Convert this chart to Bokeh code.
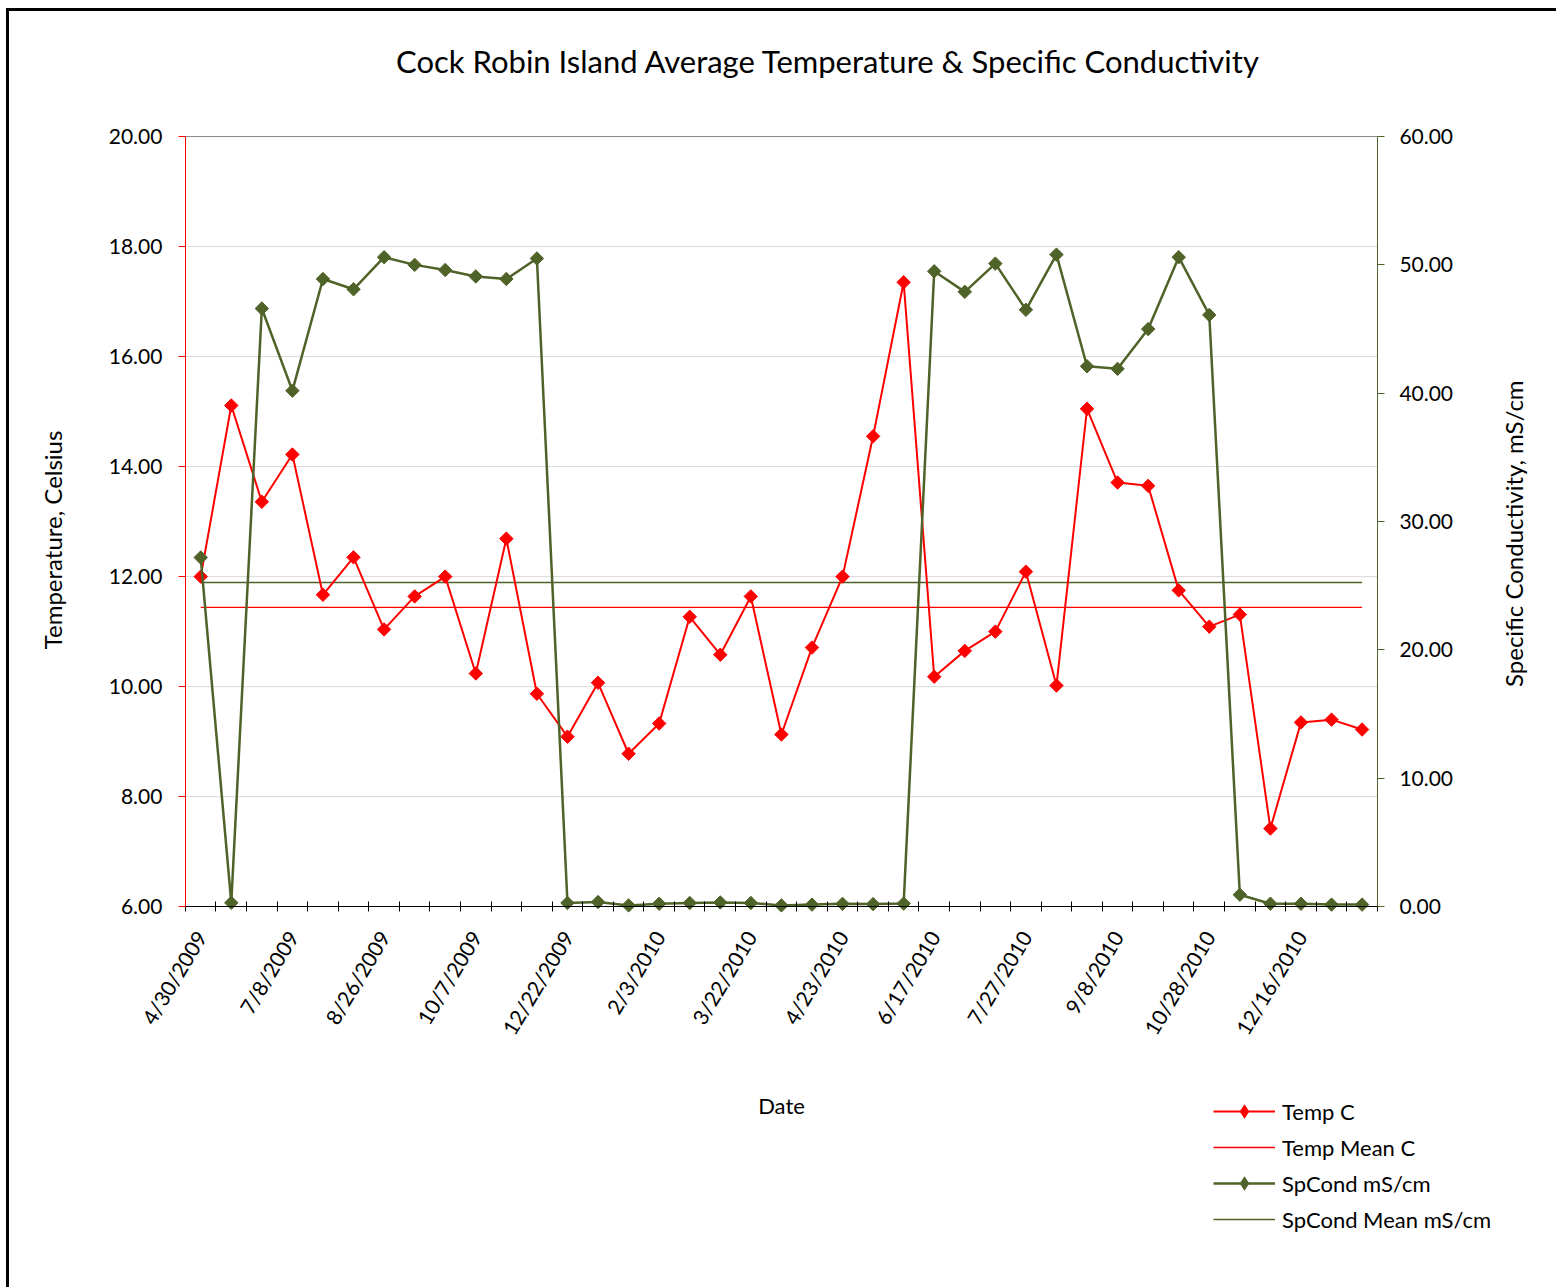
import math
from bokeh.plotting import figure
from bokeh.models import (Range1d, LinearAxis, FixedTicker, NumeralTickFormatter,
                          Legend, LegendItem, Label)
from bokeh.embed import file_html
from bokeh.resources import INLINE

# ---------------- data ----------------
tick_labels = ["4/30/2009", "7/8/2009", "8/26/2009", "10/7/2009", "12/22/2009",
               "2/3/2010", "3/22/2010", "4/23/2010", "6/17/2010", "7/27/2010",
               "9/8/2010", "10/28/2010", "12/16/2010"]
tick_index = [0, 3, 6, 9, 12, 15, 18, 21, 24, 27, 30, 33, 36]

temp_c = [12.00, 15.11, 13.36, 14.22, 11.67, 12.35, 11.04, 11.64, 12.00, 10.24,
          12.69, 9.87, 9.09, 10.07, 8.78, 9.33, 11.27, 10.58, 11.64, 9.13,
          10.71, 12.00, 14.55, 17.35, 10.18, 10.65, 11.00, 12.09, 10.02, 15.05,
          13.71, 13.65, 11.75, 11.09, 11.31, 7.42, 9.35, 9.40, 9.22]
spcond = [27.2, 0.3, 46.6, 40.2, 48.9, 48.1, 50.6, 50.0, 49.6, 49.1,
          48.9, 50.5, 0.29, 0.36, 0.10, 0.23, 0.29, 0.33, 0.29, 0.10,
          0.16, 0.22, 0.20, 0.24, 49.5, 47.9, 50.1, 46.5, 50.8, 42.1,
          41.9, 45.0, 50.6, 46.1, 0.93, 0.23, 0.23, 0.16, 0.16]
temp_mean_c = 11.44
spcond_mean = 25.25

temp_ticks = [6, 8, 10, 12, 14, 16, 18, 20]
temp_grid = [8, 10, 12, 14, 16, 18]
spcond_ticks = [0, 10, 20, 30, 40, 50, 60]

# ---------------- layout / styling ----------------
FONT = "Lato"
RED = "#FF0000"
OLIVE = "#4F6228"
NB = "\u00a0"
n = len(temp_c)
x = list(range(n))
X_LO, X_HI = -0.5, n - 0.5          # category extent
T_MIN, T_MAX = 6, 20                # left axis extent
S_MIN, S_MAX = 0, 60                # right axis extent
# the frame covers the whole page so that title, axes and legend are not clipped
VIEW_X = (-6.42, 44.23)
VIEW_Y = (-0.85, 22.4)
k = (S_MAX - S_MIN) / (T_MAX - T_MIN)

p = figure(width=1556, height=1287, output_backend="svg", toolbar_location=None,
           x_range=Range1d(*VIEW_X), y_range=Range1d(*VIEW_Y),
           min_border_left=4, min_border_right=4, min_border_top=4,
           min_border_bottom=4, border_fill_color=None,
           background_fill_color=None, outline_line_color=None)
p.styles = {
    "background-image": "linear-gradient(#000,#000), linear-gradient(#000,#000)",
    "background-size": "3px 100%, 100% 3px",
    "background-position": "6px 8px, 6px 8px",
    "background-repeat": "no-repeat",
}
p.extra_y_ranges = {"sp": Range1d(S_MIN + (VIEW_Y[0] - T_MIN) * k,
                                  S_MIN + (VIEW_Y[1] - T_MIN) * k)}
p.xgrid.grid_line_color = None
p.ygrid.grid_line_color = None

# gridlines and top border of the plot area
p.segment(x0=X_LO, x1=X_HI, y0=temp_grid, y1=temp_grid, line_color="#D9D9D9", line_width=1)
p.segment(x0=X_LO, x1=X_HI, y0=T_MAX, y1=T_MAX, line_color="#8C8C8C", line_width=1)

# x axis
xa = p.xaxis[0]
xa.fixed_location = T_MIN
xa.bounds = (X_LO, X_HI)
xa.ticker = FixedTicker(ticks=tick_index, minor_ticks=[i - 0.5 for i in range(n + 1)])
xa.major_label_overrides = {i: lab for i, lab in zip(tick_index, tick_labels)}
xa.major_label_orientation = 1.03
xa.major_tick_in = 0
xa.major_tick_out = 0
xa.minor_tick_in = 5
xa.minor_tick_out = 5
xa.minor_tick_line_color = "black"
xa.axis_line_color = "black"
xa.major_label_standoff = 21
xa.major_label_text_font = FONT
xa.major_label_text_font_size = "21px"
xa.major_label_text_color = "black"
xa.axis_label = "Date"
xa.axis_label_text_font = FONT
xa.axis_label_text_font_size = "22px"
xa.axis_label_text_font_style = "normal"
xa.axis_label_text_color = "black"
xa.axis_label_standoff = 44

# left axis
ya = p.yaxis[0]
ya.fixed_location = X_LO
ya.bounds = (T_MIN, T_MAX)
ya.ticker = FixedTicker(ticks=temp_ticks)
ya.formatter = NumeralTickFormatter(format="0.00")
ya.axis_line_color = RED
ya.major_tick_line_color = RED
ya.major_tick_in = 0
ya.major_tick_out = 7
ya.minor_tick_line_color = None
ya.major_label_standoff = 16
ya.major_label_text_font = FONT
ya.major_label_text_font_size = "21px"
ya.major_label_text_color = "black"
ya.axis_label = "Temperature, Celsius" + NB * 6
ya.axis_label_text_font = FONT
ya.axis_label_text_font_size = "24px"
ya.axis_label_text_font_style = "normal"
ya.axis_label_text_color = "black"
ya.axis_label_standoff = 39

# right axis (its title is a rotated label, read bottom to top)
ra = LinearAxis(y_range_name="sp", ticker=FixedTicker(ticks=spcond_ticks),
                formatter=NumeralTickFormatter(format="0.00"),
                bounds=(S_MIN, S_MAX), fixed_location=X_HI)
ra.axis_line_color = OLIVE
ra.major_tick_line_color = OLIVE
ra.major_tick_in = 0
ra.major_tick_out = 7
ra.minor_tick_line_color = None
ra.major_label_standoff = 15
ra.major_label_text_font = FONT
ra.major_label_text_font_size = "21px"
ra.major_label_text_color = "black"
p.add_layout(ra, "right")

p.add_layout(Label(x=42.95, y=12.78, text="Specific Conductivity, mS/cm",
                   angle=math.pi / 2, text_align="center", text_baseline="middle",
                   text_font=FONT, text_font_size="24px", text_color="black"))

# ---------------- glyphs ----------------
temp_mean_r = p.line([x[0], x[-1]], [temp_mean_c, temp_mean_c], line_color=RED, line_width=1.4)
sp_mean_r = p.line([x[0], x[-1]], [spcond_mean, spcond_mean], y_range_name="sp",
                   line_color=OLIVE, line_width=1.4)
temp_line = p.line(x, temp_c, line_color=RED, line_width=2)
temp_pts = p.scatter(x, temp_c, marker="square", angle=math.pi / 4, size=9.5,
                     fill_color=RED, line_color=RED)
sp_line = p.line(x, spcond, y_range_name="sp", line_color=OLIVE, line_width=2.5)
sp_pts = p.scatter(x, spcond, y_range_name="sp", marker="square", angle=math.pi / 4,
                   size=9.5, fill_color=OLIVE, line_color=OLIVE)

# legend key markers: same points with zero size in the plot (the legend sizes
# its markers from the key box and draws them unrotated, so use diamonds here)
temp_key = p.scatter(x, temp_c, marker="diamond", size=0, fill_color=RED, line_color=None)
sp_key = p.scatter(x, spcond, y_range_name="sp", marker="diamond", size=0,
                   fill_color=OLIVE, line_color=None)

legend = Legend(items=[
    LegendItem(label="Temp C", renderers=[temp_line, temp_key]),
    LegendItem(label="Temp Mean C", renderers=[temp_mean_r]),
    LegendItem(label="SpCond mS/cm", renderers=[sp_line, sp_key]),
    LegendItem(label="SpCond Mean mS/cm", renderers=[sp_mean_r]),
], location=(1209, 46))
legend.glyph_width = 62
legend.glyph_height = 36
legend.label_height = 20
legend.spacing = 0
legend.padding = 0
legend.margin = 0
legend.label_standoff = 7
legend.border_line_color = None
legend.background_fill_alpha = 0
legend.label_text_font = FONT
legend.label_text_font_size = "22px"
legend.label_text_color = "black"
p.add_layout(legend)

p.add_layout(Label(x=20.54, y=21.38,
                   text="Cock Robin Island Average Temperature & Specific Conductivity",
                   text_align="center", text_baseline="middle", text_font=FONT,
                   text_font_size="31px", text_color="black"))

open("out.html", "w").write(file_html(p, INLINE))
